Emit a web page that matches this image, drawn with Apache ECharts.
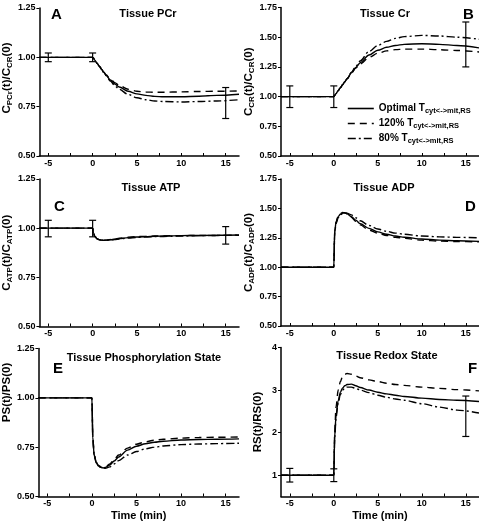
<!DOCTYPE html>
<html><head><meta charset="utf-8">
<script src="https://cdn.jsdelivr.net/npm/echarts@6/dist/echarts.min.js"></script>
<style>html,body{margin:0;padding:0;background:#fff}#c{width:479px;height:526px}</style>
</head><body><div id="c"></div>
<script>
// ---- data ----
const time = [-6, 0, 0.1, 0.25, 0.5, 0.75, 1, 1.25, 1.5, 2, 2.5, 3, 4, 5, 6, 7, 8, 10, 12, 14, 16.5];
const seriesNames = ['Optimal', '120%', '80%'];

const pcrOpt = [1, 1, 0.995, 0.985, 0.97, 0.955, 0.94, 0.925, 0.91, 0.885, 0.865, 0.85, 0.828, 0.815, 0.807, 0.802, 0.80, 0.80, 0.803, 0.807, 0.813];
const pcr120 = [1, 1, 0.995, 0.985, 0.97, 0.955, 0.94, 0.925, 0.912, 0.89, 0.872, 0.857, 0.838, 0.828, 0.824, 0.823, 0.823, 0.825, 0.827, 0.828, 0.83];
const pcr80  = [1, 1, 0.995, 0.985, 0.97, 0.955, 0.94, 0.923, 0.908, 0.88, 0.856, 0.838, 0.812, 0.795, 0.785, 0.779, 0.776, 0.774, 0.776, 0.779, 0.785];
const pcrErr = [[-5, 0.978, 1.022], [0, 0.978, 1.022], [15, 0.69, 0.847]];

const crOpt = [1, 1, 1.01, 1.025, 1.05, 1.075, 1.10, 1.125, 1.15, 1.20, 1.245, 1.285, 1.35, 1.39, 1.415, 1.43, 1.44, 1.445, 1.44, 1.43, 1.41];
const cr120 = [1, 1, 1.01, 1.025, 1.05, 1.075, 1.10, 1.125, 1.15, 1.195, 1.24, 1.275, 1.33, 1.365, 1.385, 1.395, 1.40, 1.40, 1.395, 1.388, 1.376];
const cr80  = [1, 1, 1.01, 1.025, 1.05, 1.075, 1.10, 1.125, 1.15, 1.205, 1.255, 1.30, 1.38, 1.43, 1.465, 1.49, 1.505, 1.515, 1.51, 1.50, 1.483];
const crErr = [[-5, 0.908, 1.09], [0, 0.908, 1.09], [15, 1.25, 1.628]];

const atpOpt = [1, 1, 0.975, 0.958, 0.946, 0.941, 0.939, 0.938, 0.939, 0.941, 0.944, 0.947, 0.952, 0.955, 0.957, 0.959, 0.96, 0.962, 0.963, 0.964, 0.965];
const atp120 = [1, 1, 0.975, 0.958, 0.946, 0.941, 0.939, 0.938, 0.939, 0.942, 0.945, 0.949, 0.954, 0.957, 0.959, 0.96, 0.961, 0.962, 0.963, 0.963, 0.964];
const atp80  = [1, 1, 0.975, 0.958, 0.946, 0.941, 0.939, 0.938, 0.938, 0.94, 0.942, 0.945, 0.95, 0.953, 0.955, 0.957, 0.958, 0.96, 0.962, 0.963, 0.965];
const atpErr = [[-5, 0.956, 1.04], [0, 0.956, 1.04], [15, 0.919, 1.008]];

const adpOpt = [1, 1, 1.30, 1.38, 1.43, 1.45, 1.46, 1.46, 1.455, 1.43, 1.40, 1.37, 1.33, 1.30, 1.28, 1.265, 1.255, 1.24, 1.23, 1.225, 1.22];
const adp120 = [1, 1, 1.30, 1.385, 1.435, 1.455, 1.465, 1.463, 1.455, 1.425, 1.39, 1.36, 1.315, 1.29, 1.27, 1.255, 1.245, 1.23, 1.222, 1.218, 1.215];
const adp80  = [1, 1, 1.29, 1.37, 1.42, 1.445, 1.457, 1.462, 1.46, 1.445, 1.42, 1.395, 1.355, 1.325, 1.305, 1.29, 1.28, 1.265, 1.258, 1.254, 1.25];
const adpErr = [];

const psOpt = [1, 1, 0.80, 0.71, 0.67, 0.655, 0.648, 0.645, 0.647, 0.66, 0.68, 0.70, 0.735, 0.755, 0.767, 0.775, 0.78, 0.786, 0.789, 0.79, 0.792];
const ps120 = [1, 1, 0.80, 0.71, 0.67, 0.655, 0.648, 0.646, 0.65, 0.665, 0.688, 0.71, 0.745, 0.765, 0.777, 0.785, 0.79, 0.796, 0.799, 0.80, 0.802];
const ps80  = [1, 1, 0.80, 0.71, 0.672, 0.658, 0.65, 0.645, 0.643, 0.65, 0.665, 0.682, 0.71, 0.728, 0.742, 0.75, 0.756, 0.763, 0.766, 0.768, 0.77];
const psErr = [];

const rsOpt = [1, 1, 1.9, 2.4, 2.75, 2.95, 3.05, 3.1, 3.13, 3.14, 3.1, 3.06, 3.0, 2.95, 2.91, 2.88, 2.85, 2.81, 2.78, 2.76, 2.73];
const rs120 = [1, 1, 2.0, 2.6, 3.0, 3.2, 3.32, 3.37, 3.39, 3.37, 3.33, 3.29, 3.24, 3.2, 3.16, 3.13, 3.11, 3.07, 3.04, 3.01, 2.98];
const rs80  = [1, 1, 1.85, 2.35, 2.7, 2.9, 3.0, 3.05, 3.07, 3.07, 3.04, 3.0, 2.94, 2.88, 2.83, 2.79, 2.76, 2.68, 2.6, 2.53, 2.46];
const rsErr = [[-5, 0.84, 1.16], [0, 0.85, 1.15], [15, 1.91, 2.86]];

const xTickLabels = [-5, 0, 5, 10, 15];
const xMinorTicks = [-5, -2.5, 0, 2.5, 5, 7.5, 10, 12.5, 15];
const yTicksLow = [0.5, 0.75, 1.0, 1.25];
const yTicksHigh = [0.5, 0.75, 1.0, 1.25, 1.5, 1.75];
const yTicksRS = [1, 2, 3, 4];

const titles = ['Tissue PCr', 'Tissue Cr', 'Tissue ATP', 'Tissue ADP', 'Tissue Phosphorylation State', 'Tissue Redox State'];
const letters = ['A', 'B', 'C', 'D', 'E', 'F'];
const yNames = [
  '{m|C}{s|PCr}{m|(t)/C}{s|CR}{m|(0)}',
  '{m|C}{s|CR}{m|(t)/C}{s|CR}{m|(0)}',
  '{m|C}{s|ATP}{m|(t)/C}{s|ATP}{m|(0)}',
  '{m|C}{s|ADP}{m|(t)/C}{s|ADP}{m|(0)}',
  '{m|PS(t)/PS(0)}',
  '{m|RS(t)/RS(0)}'
];

// ---- layout ----
const FONT = 'Liberation Sans, Arial, sans-serif';
const grids = [
  {left: 38, top: 8, width: 201, height: 148},
  {left: 281, top: 7.5, width: 199, height: 148.5},
  {left: 38, top: 179, width: 201, height: 147.5},
  {left: 281, top: 179, width: 199, height: 147},
  {left: 38, top: 348.5, width: 201, height: 148},
  {left: 281, top: 347.5, width: 199, height: 149}
];
const yRanges = [[0.5, 1.25], [0.5, 1.75], [0.5, 1.25], [0.5, 1.75], [0.5, 1.25], [0.5, 4]];
const yTickSets = [yTicksLow, yTicksHigh, yTicksLow, yTicksHigh, yTicksLow, yTicksRS];
const yNamePad = [[0,0,0,8], [0,0,0,0], [0,0,0,0], [0,0,0,0], [0,0,0,60], [0,0,0,0]];
const titlePos = [[143, 3], [380, 3], [146, 177], [379, 177], [139, 347], [382, 345]];
const letterPos = [[46, 2], [458, 2], [49, 194], [460, 194], [48, 356], [463, 356]];

const panels = [
  {vals: [pcrOpt, pcr120, pcr80], err: pcrErr},
  {vals: [crOpt, cr120, cr80], err: crErr},
  {vals: [atpOpt, atp120, atp80], err: atpErr},
  {vals: [adpOpt, adp120, adp80], err: adpErr},
  {vals: [psOpt, ps120, ps80], err: psErr},
  {vals: [rsOpt, rs120, rs80], err: rsErr}
];
const lineTypes = ['solid', [7, 5], [8, 3, 2, 3]];

const xAxes = [], yAxes = [], series = [], titleArr = [];
panels.forEach((p, i) => {
  xAxes.push({
    type: 'value', gridIndex: i, min: -6, max: 16.5,
    axisLine: {show: true, onZero: false, lineStyle: {color: '#000', width: 1.5}},
    axisTick: {show: true, inside: true, length: 3, customValues: xMinorTicks, lineStyle: {color: '#000', width: 1}},
    axisLabel: {customValues: xTickLabels, margin: 3, color: '#000', fontSize: 9, fontWeight: 'bold', fontFamily: FONT},
    splitLine: {show: false},
    name: i >= 4 ? 'Time (min)' : '', nameLocation: 'middle', nameGap: 14,
    nameTextStyle: {color: '#000', fontSize: 11, fontWeight: 'bold', fontFamily: FONT}
  });
  yAxes.push({
    type: 'value', gridIndex: i, min: yRanges[i][0], max: yRanges[i][1],
    axisLine: {show: true, onZero: false, lineStyle: {color: '#000', width: 1.5}},
    axisTick: {show: true, inside: false, length: 3, customValues: yTickSets[i], lineStyle: {color: '#000', width: 1}},
    axisLabel: {customValues: yTickSets[i], margin: 4, color: '#000', fontSize: 9, fontWeight: 'bold', fontFamily: FONT,
      formatter: v => i === 5 ? String(v) : v.toFixed(2)},
    splitLine: {show: false},
    name: yNames[i], nameLocation: 'middle', nameRotate: 90, nameGap: i === 5 ? 16 : 24,
    nameTextStyle: {color: '#000', fontFamily: FONT, padding: yNamePad[i],
      rich: {m: {fontSize: 11.5, fontWeight: 'bold', color: '#000', fontFamily: FONT, lineHeight: 14},
             s: {fontSize: 8, fontWeight: 'bold', color: '#000', fontFamily: FONT, verticalAlign: 'bottom', lineHeight: 14, padding: [5, 0, 0, 0]}}}
  });
  p.vals.forEach((arr, k) => {
    series.push({
      type: 'line', name: seriesNames[k], xAxisIndex: i, yAxisIndex: i,
      data: time.map((t, j) => [t, arr[j]]),
      showSymbol: false, symbol: 'none', smooth: 0.3, smoothMonotone: 'x',
      lineStyle: {color: '#000', width: 1.4, type: lineTypes[k]},
      itemStyle: {color: '#000'},
      z: 3 - k, animation: false
    });
  });
  if (p.err.length) {
    series.push({
      type: 'custom', xAxisIndex: i, yAxisIndex: i, data: p.err,
      encode: {x: 0, y: [1, 2]}, animation: false, silent: true,
      renderItem: (params, api) => {
        const x = api.value(0), lo = api.value(1), hi = api.value(2);
        const a = api.coord([x, lo]), b = api.coord([x, hi]);
        const w = 3.5, st = {stroke: '#000', lineWidth: 1.2};
        return {type: 'group', children: [
          {type: 'line', shape: {x1: a[0], y1: a[1], x2: b[0], y2: b[1]}, style: st},
          {type: 'line', shape: {x1: a[0] - w, y1: a[1], x2: a[0] + w, y2: a[1]}, style: st},
          {type: 'line', shape: {x1: b[0] - w, y1: b[1], x2: b[0] + w, y2: b[1]}, style: st}
        ]};
      }
    });
  }
  titleArr.push({text: titles[i], left: titlePos[i][0], top: titlePos[i][1], textAlign: 'center',
    textStyle: {fontSize: 11, fontWeight: 'bold', color: '#000', fontFamily: FONT}});
  titleArr.push({text: letters[i], left: letterPos[i][0], top: letterPos[i][1],
    textStyle: {fontSize: 15, fontWeight: 'bold', color: '#000', fontFamily: FONT}});
});

const legendLabels = {'Optimal': 'Optimal T', '120%': '120% T', '80%': '80% T'};
const option = {
  animation: false,
  backgroundColor: '#fff',
  title: titleArr,
  grid: grids,
  xAxis: xAxes,
  yAxis: yAxes,
  legend: {
    data: seriesNames, orient: 'vertical', left: 342, top: 97,
    itemWidth: 26, itemHeight: 10, itemGap: 2,
    itemStyle: {color: 'rgba(0,0,0,0)', borderColor: 'rgba(0,0,0,0)', borderWidth: 0},
    lineStyle: {width: 1.6},
    formatter: n => '{m|' + legendLabels[n] + '}{s|cyt<->mit,RS}',
    textStyle: {color: '#000', fontFamily: FONT,
      rich: {m: {fontSize: 10, fontWeight: 'bold', color: '#000', fontFamily: FONT, lineHeight: 13},
             s: {fontSize: 7.5, fontWeight: 'bold', color: '#000', fontFamily: FONT, verticalAlign: 'bottom', lineHeight: 13, padding: [5, 0, 0, 0]}}},
    selectedMode: false
  },
  series: series
};
const chart = echarts.init(document.getElementById('c'), null, {renderer: 'canvas'});
chart.setOption(option);
</script>
</body></html>
